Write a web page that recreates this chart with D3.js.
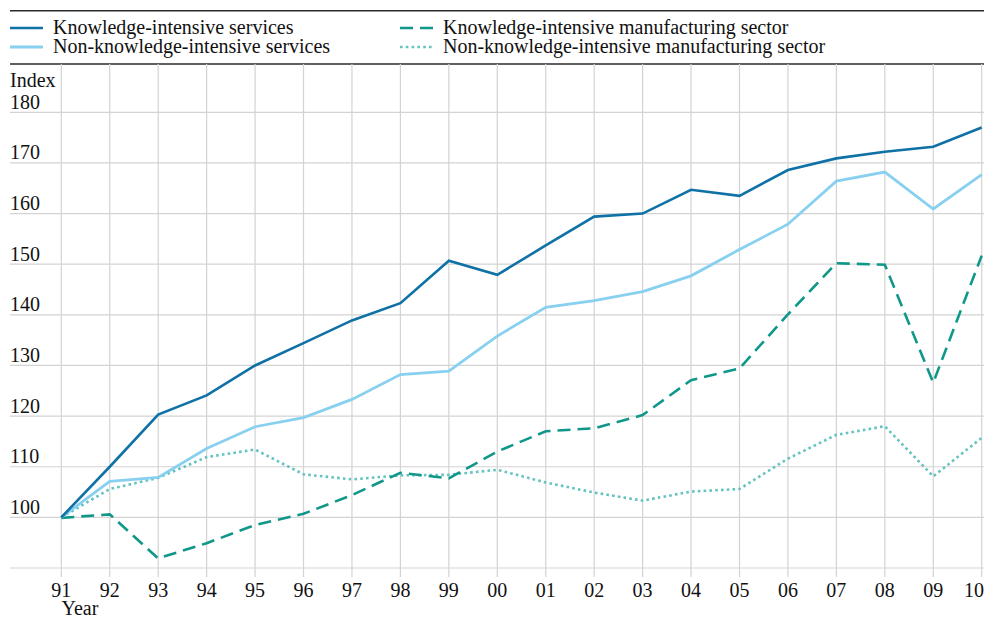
<!DOCTYPE html>
<html>
<head>
<meta charset="utf-8">
<script src="https://cdn.jsdelivr.net/npm/d3@7"></script>
<style>
  html, body { margin: 0; padding: 0; background: #fff; }
  svg { display: block; font-family: "Liberation Serif", "Times New Roman", serif; }
</style>
</head>
<body>
<svg id="chart" width="984" height="620"></svg>
<script>
// Year tick labels (1991 to 2010)
const years = ["91","92","93","94","95","96","97","98","99","00","01","02","03","04","05","06","07","08","09","10"];
const yTicks = [100, 110, 120, 130, 140, 150, 160, 170, 180];

// Index values, 1991 = 100
const knowledgeServices = [100, 110.0, 120.3, 124.1, 130.0, 134.4, 138.9, 142.3, 150.7, 147.9, 153.7, 159.4, 160.0, 164.7, 163.5, 168.6, 170.9, 172.2, 173.2, 177.0];
const nonKnowledgeServices = [100, 107.1, 107.9, 113.6, 117.9, 119.7, 123.3, 128.2, 128.9, 135.8, 141.5, 142.8, 144.6, 147.7, 152.9, 157.9, 166.4, 168.2, 160.9, 167.7];
const knowledgeManufacturing = [99.9, 100.6, 91.9, 94.9, 98.5, 100.7, 104.4, 108.8, 107.7, 113.0, 117.0, 117.6, 120.2, 127.1, 129.4, 140.1, 150.2, 149.9, 126.6, 151.7];
const nonKnowledgeManufacturing = [100, 105.6, 107.8, 111.9, 113.4, 108.5, 107.5, 108.3, 108.4, 109.4, 106.9, 104.9, 103.3, 105.1, 105.6, 111.6, 116.3, 118.0, 108.1, 115.7];

const seriesNames = [
  "Knowledge-intensive services",
  "Non-knowledge-intensive services",
  "Knowledge-intensive manufacturing sector",
  "Non-knowledge-intensive manufacturing sector"
];

const styles = [
  { color: "#0f71a6", dash: null, width: 2.6 },
  { color: "#88d0f0", dash: null, width: 2.8 },
  { color: "#0f978a", dash: "13,7", width: 2.6 },
  { color: "#63c3be", dash: "2.6,3.2", width: 2.6 }
];

const series = [knowledgeServices, nonKnowledgeServices, knowledgeManufacturing, nonKnowledgeManufacturing];

const svg = d3.select("#chart");
const fontSize = 20;

const x = d3.scalePoint().domain(years).range([61.3, 981.7]);
const y = d3.scaleLinear().domain([90, 180]).range([568, 112.3]);

const plotTop = 64;
const leftEdge = 10;
const rightEdge = 984;

// Frame rules above and below the legend
svg.append("line").attr("x1", leftEdge).attr("x2", rightEdge).attr("y1", 10.7).attr("y2", 10.7)
  .attr("stroke", "#2b2b2b").attr("stroke-width", 1.4);
svg.append("line").attr("x1", leftEdge).attr("x2", rightEdge).attr("y1", plotTop).attr("y2", plotTop)
  .attr("stroke", "#2b2b2b").attr("stroke-width", 1.4);

// Grid
const grid = svg.append("g");
grid.selectAll("line.v").data(years).enter().append("line")
  .attr("x1", d => x(d)).attr("x2", d => x(d))
  .attr("y1", plotTop).attr("y2", 577)
  .attr("stroke", "#d3d3d3").attr("stroke-width", 1.2);
grid.selectAll("line.h").data([90].concat(yTicks)).enter().append("line")
  .attr("x1", leftEdge).attr("x2", rightEdge)
  .attr("y1", d => y(d)).attr("y2", d => y(d))
  .attr("stroke", "#d3d3d3").attr("stroke-width", 1.2);

// Y axis labels, sitting just above each grid line
const yAxis = svg.append("g");
yAxis.selectAll("text").data(yTicks).enter().append("text")
  .attr("x", 10).attr("y", d => y(d) - 3.5)
  .attr("font-size", fontSize).attr("fill", "#111")
  .text(d => d);
yAxis.append("text").attr("x", 10).attr("y", 87)
  .attr("font-size", fontSize).attr("fill", "#111").text("Index");

// X axis labels; the last one is kept inside the right edge
const xAxis = svg.append("g");
xAxis.selectAll("text").data(years).enter().append("text")
  .attr("x", (d, i) => i === years.length - 1 ? rightEdge : x(d))
  .attr("y", 597)
  .attr("text-anchor", (d, i) => i === years.length - 1 ? "end" : "middle")
  .attr("font-size", fontSize).attr("fill", "#111")
  .text(d => d);
xAxis.append("text").attr("x", 61.5).attr("y", 615)
  .attr("font-size", fontSize).attr("fill", "#111").text("Year");

// Lines
const line = d3.line().x((d, i) => x(years[i])).y(d => y(d));
const drawOrder = [3, 2, 1, 0];
drawOrder.forEach(k => {
  const s = styles[k];
  svg.append("path")
    .datum(series[k])
    .attr("d", line)
    .attr("fill", "none")
    .attr("stroke", s.color)
    .attr("stroke-width", s.width)
    .attr("stroke-linejoin", "miter")
    .attr("stroke-dasharray", s.dash);
});

// Legend
const legendPos = [
  { x: 10, y: 28 }, { x: 10, y: 47 },
  { x: 400, y: 28 }, { x: 400, y: 47 }
];
const legend = svg.append("g");
seriesNames.forEach((name, k) => {
  const p = legendPos[k];
  const s = styles[k];
  legend.append("line")
    .attr("x1", p.x).attr("x2", p.x + 33)
    .attr("y1", p.y).attr("y2", p.y)
    .attr("stroke", s.color).attr("stroke-width", s.width)
    .attr("stroke-dasharray", s.dash);
  legend.append("text")
    .attr("x", p.x + 43).attr("y", p.y + 5.5)
    .attr("font-size", fontSize).attr("fill", "#111")
    .text(name);
});
</script>
</body>
</html>
